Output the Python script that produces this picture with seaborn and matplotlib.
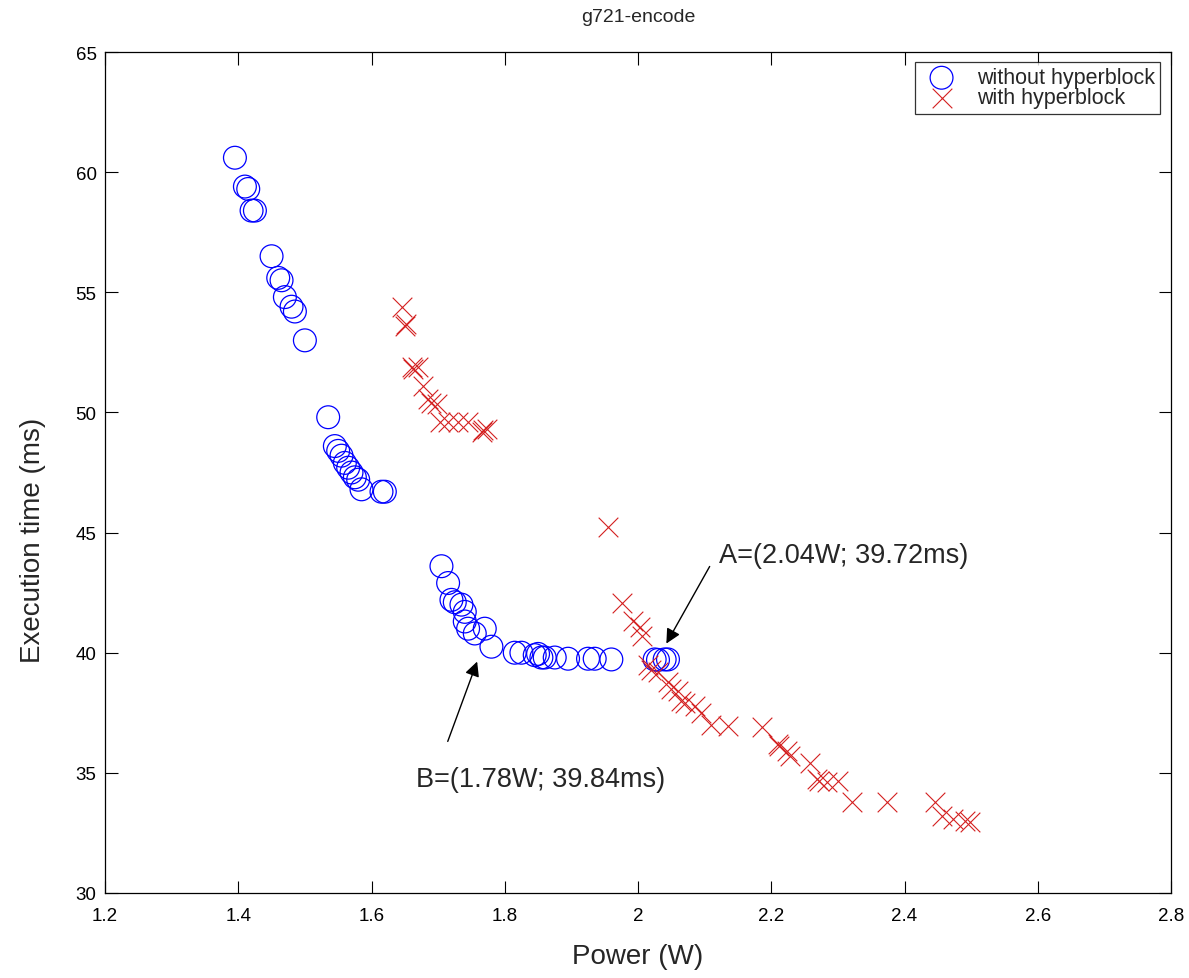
import pandas as pd
import matplotlib
matplotlib.use("Agg")
import matplotlib.pyplot as plt
import seaborn as sns

# datos
power_without = [1.395, 1.410, 1.415, 1.420, 1.425, 1.450, 1.460, 1.465, 1.470, 1.480,
                 1.485, 1.500, 1.535, 1.545, 1.550, 1.555, 1.560, 1.565, 1.570, 1.575,
                 1.580, 1.585, 1.615, 1.620, 1.705, 1.715, 1.720, 1.725, 1.735, 1.740,
                 1.740, 1.745, 1.755, 1.770, 1.780, 1.815, 1.825, 1.845, 1.850, 1.855,
                 1.860, 1.875, 1.895, 1.925, 1.935, 1.960, 2.025, 2.030, 2.040, 2.045]
time_without = [60.6, 59.4, 59.3, 58.4, 58.4, 56.5, 55.6, 55.5, 54.8, 54.4,
                54.2, 53.0, 49.8, 48.6, 48.4, 48.2, 47.9, 47.7, 47.5, 47.3,
                47.2, 46.8, 46.7, 46.7, 43.6, 42.9, 42.2, 42.1, 42.0, 41.7,
                41.3, 41.0, 40.8, 41.0, 40.25, 40.0, 40.0, 39.9, 39.95, 39.8,
                39.8, 39.8, 39.75, 39.75, 39.75, 39.72, 39.72, 39.70, 39.72, 39.72]

power_with = [1.646, 1.650, 1.652, 1.661, 1.663, 1.670, 1.677, 1.685, 1.690, 1.698,
              1.703, 1.715, 1.730, 1.745, 1.766, 1.768, 1.773, 1.955, 1.976, 1.993,
              2.003, 2.006, 2.015, 2.020, 2.030, 2.045, 2.050, 2.060, 2.065, 2.070,
              2.085, 2.095, 2.110, 2.135, 2.186, 2.210, 2.212, 2.224, 2.228, 2.258,
              2.269, 2.271, 2.283, 2.300, 2.321, 2.374, 2.446, 2.456, 2.473, 2.491,
              2.498]
time_with = [54.4, 53.6, 53.7, 51.9, 51.8, 51.9, 51.1, 50.56, 50.4, 50.35,
             49.6, 49.6, 49.6, 49.6, 49.2, 49.25, 49.3, 45.23, 42.07, 41.3,
             41.07, 40.7, 39.5, 39.3, 39.2, 38.8, 38.5, 38.4, 38.0, 37.9,
             37.8, 37.5, 37.0, 36.95, 36.9, 36.2, 36.1, 35.9, 35.7, 35.4,
             34.75, 34.65, 34.6, 34.66, 33.8, 33.8, 33.8, 33.2, 33.08, 33.0,
             32.95]

x_ticks = [1.2, 1.4, 1.6, 1.8, 2.0, 2.2, 2.4, 2.6, 2.8]
x_tick_labels = ['1.2', '1.4', '1.6', '1.8', '2', '2.2', '2.4', '2.6', '2.8']
y_ticks = [30, 35, 40, 45, 50, 55, 60, 65]

df_without = pd.DataFrame({'Power': power_without, 'Time': time_without})
df_with = pd.DataFrame({'Power': power_with, 'Time': time_with})

sns.set_style("ticks")
plt.rcParams['font.family'] = ['Liberation Sans', 'DejaVu Sans']

fig = plt.figure(figsize=(11.89, 9.79), dpi=100)
ax = fig.add_axes([105 / 1189, 1 - 894 / 979, 1066 / 1189, 841 / 979])

sns.scatterplot(data=df_without, x='Power', y='Time', ax=ax, marker='o', s=270,
                color='#0000ff', facecolor='none', edgecolor='#0000ff',
                linewidth=0.9, label='without hyperblock')
sns.scatterplot(data=df_with, x='Power', y='Time', ax=ax, marker='x', s=200,
                color='#d42020', edgecolor=None, linewidth=0.8,
                label='with hyperblock')

ax.set_xlim(1.2, 2.8)
ax.set_ylim(30, 65)
ax.set_xticks(x_ticks)
ax.set_xticklabels(x_tick_labels)
ax.set_yticks(y_ticks)
ax.tick_params(direction='in', length=9, width=0.8, top=True, right=True,
               labelsize=13.5, color='black', labelcolor='black')
ax.tick_params(axis='x', pad=10)
ax.tick_params(axis='y', pad=6)
for sp in ax.spines.values():
    sp.set_visible(True)
    sp.set_color('black')
    sp.set_linewidth(0.9)

ax.set_title('g721-encode', fontsize=14, pad=22)
ax.set_xlabel('Power (W)', fontsize=20, labelpad=14)
ax.set_ylabel('Execution time (ms)', fontsize=20)
ax.yaxis.set_label_coords(-0.055, 0.421)

# anotaciones A y B
ax.annotate('', xy=(2.0405, 40.28), xytext=(2.1096, 43.69),
            arrowprops=dict(arrowstyle='-|>', color='black', lw=1, mutation_scale=22))
ax.text(2.1216, 43.78, 'A=(2.04W; 39.72ms)', fontsize=19.5, va='baseline', ha='left')
ax.annotate('', xy=(1.76, 39.74), xytext=(1.713, 36.2),
            arrowprops=dict(arrowstyle='-|>', color='black', lw=1, mutation_scale=22))
ax.text(1.667, 34.45, 'B=(1.78W; 39.84ms)', fontsize=19.5, va='baseline', ha='left')

leg = ax.legend(loc='upper right', bbox_to_anchor=(0.9897, 0.9881), borderaxespad=0,
                fontsize=15.5, frameon=True, fancybox=False, edgecolor='black',
                borderpad=0.25, handlelength=2.0, handletextpad=0.63, labelspacing=-0.05)
leg.get_frame().set_linewidth(0.9)

fig.savefig('out.png', dpi=100, facecolor='white')
